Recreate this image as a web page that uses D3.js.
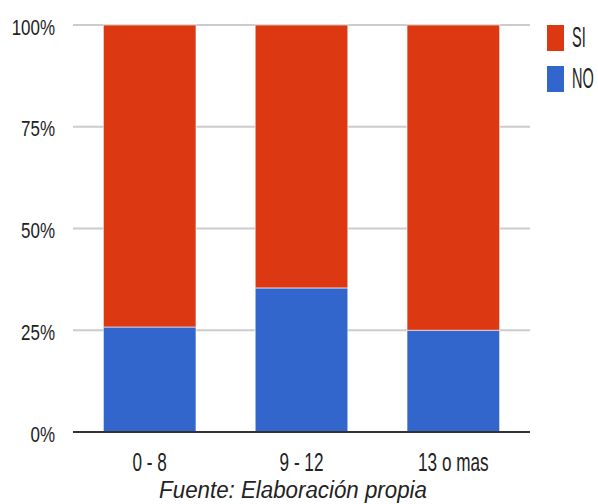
<!DOCTYPE html>
<html>
<head>
<meta charset="utf-8">
<script src="https://cdn.jsdelivr.net/npm/d3@7"></script>
<style>
  html, body { margin: 0; padding: 0; background: #fff; }
  svg { display: block; }
  text { font-family: "Liberation Sans", Arial, sans-serif; fill: #222; }
</style>
</head>
<body>
<svg id="chart" width="598" height="504"></svg>
<script>
const categories = ["0 - 8", "9 - 12", "13 o mas"];
const seriesNames = ["NO", "SI"];
const noValues = [25.8, 35.4, 25.0];
const siValues = [74.2, 64.6, 75.0];
const yTicks = [0, 25, 50, 75, 100];
const colors = { SI: "#dc3912", NO: "#3366cc" };
const caption = "Fuente: Elaboración propia";

(function () {
const svg = d3.select("#chart");
const plotLeft = 73, plotRight = 530, plotTop = 25, plotBottom = 432;

const x = d3.scaleBand().domain(categories).range([plotLeft, plotRight]).paddingInner(0.39).paddingOuter(0.2);
const y = d3.scaleLinear().domain([0, 100]).range([plotBottom, plotTop]);

// gridlines
svg.append("g").selectAll("line").data(yTicks.filter(d => d > 0)).join("line")
  .attr("x1", plotLeft).attr("x2", plotRight)
  .attr("y1", d => y(d)).attr("y2", d => y(d))
  .attr("stroke", "#cccccc").attr("stroke-width", 2);

// stacked data
const table = categories.map((c, i) => ({ cat: c, NO: noValues[i], SI: siValues[i] }));
const stack = d3.stack().keys(seriesNames)(table);

svg.append("g").selectAll("g").data(stack).join("g")
  .attr("fill", d => colors[d.key])
  .selectAll("rect").data(d => d).join("rect")
  .attr("x", d => x(d.data.cat))
  .attr("width", x.bandwidth())
  .attr("y", d => y(d[1]))
  .attr("height", d => y(d[0]) - y(d[1]))
  .attr("stroke", "#ffffff").attr("stroke-width", 1).attr("stroke-opacity", 0.6);

// baseline
svg.append("line").attr("x1", plotLeft).attr("x2", plotRight)
  .attr("y1", y(0)).attr("y2", y(0))
  .attr("stroke", "#333333").attr("stroke-width", 2);

// y tick labels
svg.append("g").selectAll("g").data(yTicks).join("g")
  .attr("transform", d => `translate(55,${y(d) + 9.5}) scale(0.77,1)`)
  .append("text").attr("text-anchor", "end").attr("font-size", 22)
  .text(d => d + "%");

// x tick labels
svg.append("g").selectAll("g").data(categories).join("g")
  .attr("transform", d => `translate(${x(d) + x.bandwidth() / 2},471) scale(0.66,1)`)
  .append("text").attr("text-anchor", "middle").attr("font-size", 26)
  .text(d => d);

// legend
const legendItems = ["SI", "NO"];
const lg = svg.append("g").selectAll("g").data(legendItems).join("g")
  .attr("transform", (d, i) => `translate(547,${25 + i * 41})`);
lg.append("rect").attr("width", 17).attr("height", 26).attr("fill", d => colors[d]);
lg.append("g").attr("transform", "translate(25,22) scale(0.5,1)")
  .append("text").attr("font-size", 29).text(d => d);

// caption
svg.append("g").attr("transform", "translate(293,498) scale(0.93,1)")
  .append("text").attr("text-anchor", "middle").attr("font-size", 24)
  .attr("font-style", "italic").attr("fill", "#000").text(caption);
})();
</script>
</body>
</html>
